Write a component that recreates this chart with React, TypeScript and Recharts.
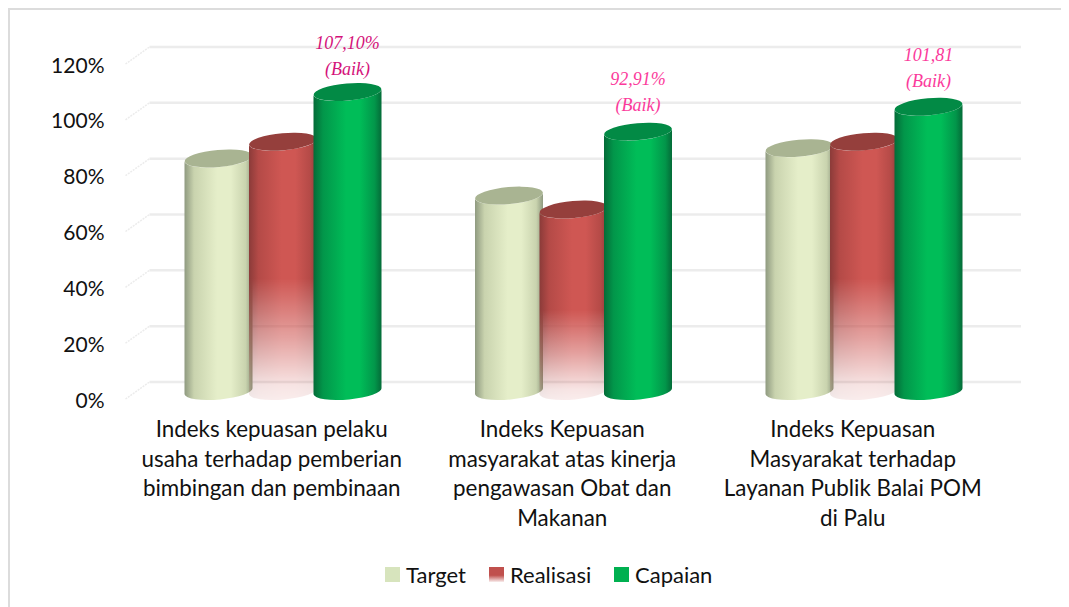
import React from 'react';
import { Bar, CartesianGrid, ComposedChart, LabelList, Legend, XAxis, YAxis } from 'recharts';

const categories = [
  'Indeks kepuasan pelaku\nusaha terhadap pemberian\nbimbingan dan pembinaan',
  'Indeks Kepuasan\nmasyarakat atas kinerja\npengawasan Obat dan\nMakanan',
  'Indeks Kepuasan\nMasyarakat terhadap\nLayanan Publik Balai POM\ndi Palu',
];
const target = [83.3, 70, 87];
const realisasi = [89.3, 65, 89.3];
const capaian = [107.1, 92.91, 101.81];
const capaianLabels = ['107,10%', '92,91%', '101,81'];
const capaianRatings = ['(Baik)', '(Baik)', '(Baik)'];
const yTicks = [0, 20, 40, 60, 80, 100, 120];

const chartData = categories.map((name, i) => ({
  name,
  target: target[i],
  realisasi: realisasi[i],
  capaian: capaian[i],
}));

const FONT = 'Lato, sans-serif';
const labelColors = ['#d4127a', '#fb3a9b', '#fb3a9b'];
const labelLift = [43, 47, 46];

const Cylinder = ({ x, y, width, height, bodyFill, capFill, mask }: any) => {
  const rx = width / 2;
  const ry = 8.5;
  const tilt = 3.2;
  const left = x;
  const right = x + width;
  const bottom = y + height;
  const body =
    `M${left},${y + tilt} L${left},${bottom + tilt} ` +
    `A${rx} ${ry} -5 0 0 ${right},${bottom - tilt} ` +
    `L${right},${y - tilt} A${rx} ${ry} -5 0 1 ${left},${y + tilt} Z`;
  return (
    <g>
      <path d={body} fill={bodyFill} mask={mask} />
      <ellipse cx={x + rx} cy={y} rx={rx} ry={ry} fill={capFill} transform={`rotate(-5 ${x + rx} ${y})`} />
    </g>
  );
};

const YTick = ({ x, y, payload }: any) => (
  <text x={x - 25} y={y + 8} textAnchor="end" dominantBaseline="central" fontFamily={FONT} fontSize={21} fill="#111">
    {payload.value}%
  </text>
);

const XTick = ({ x, y, payload }: any) => {
  const lines = String(payload.value).split('\n');
  return (
    <text x={x - 11} y={y} textAnchor="middle" fontFamily={FONT} fontSize={22.4} fill="#111">
      {lines.map((line, i) => (
        <tspan key={i} x={x - 11} dy={i === 0 ? 38 : 29.6}>
          {line}
        </tspan>
      ))}
    </text>
  );
};

const CapaianLabel = ({ x, y, width, index }: any) => {
  const cx = x + width / 2;
  const top = y - labelLift[index];
  return (
    <text textAnchor="middle" fontFamily="'Liberation Serif', serif" fontStyle="italic" fontSize={18} fill={labelColors[index]}>
      <tspan x={cx} y={top}>{capaianLabels[index]}</tspan>
      <tspan x={cx} y={top + 26}>{capaianRatings[index]}</tspan>
    </text>
  );
};

// gridline with the short diagonal running to the front of the chart floor
const GridLine = ({ x1, x2, y1 }: any) => (
  <g fill="none" stroke="#ececec">
    <line x1={x1 - 12} y1={y1 + 8} x2={x1 + 12} y2={y1 - 9} strokeWidth={1.5} strokeDasharray="2 1" />
    <line x1={x1 + 12} y1={y1 - 9} x2={x2 + 12} y2={y1 - 9} strokeWidth={2.5} />
  </g>
);

const swatches: Record<string, string> = {
  target: '#d7e4bd',
  realisasi: 'url(#legendFade)',
  capaian: '#00b050',
};
const legendLeft: Record<string, number> = { target: 375, realisasi: 479, capaian: 604 };

const LegendRow = ({ payload }: any) => (
  <div style={{ position: 'relative', height: 30, fontFamily: FONT, fontSize: 22, color: '#111' }}>
    <svg width={0} height={0} style={{ position: 'absolute' }}>
      <defs>
        <linearGradient id="legendFade" x1="0" y1="0" x2="0" y2="1">
          <stop offset="55%" stopColor="#c0504d" />
          <stop offset="100%" stopColor="#c0504d" stopOpacity={0.1} />
        </linearGradient>
      </defs>
    </svg>
    {(payload || []).map((entry: any) => (
      <div key={entry.dataKey} style={{ position: 'absolute', left: legendLeft[entry.dataKey], top: 0, display: 'flex', alignItems: 'center', height: 30 }}>
        <svg width={15} height={15} style={{ marginRight: 6 }}>
          <rect width={15} height={15} fill={swatches[entry.dataKey]} />
        </svg>
        <span>{entry.value}</span>
      </div>
    ))}
  </div>
);

const bodyGradient = (id: string, edge: string, mid: string, bright: string) => (
  <linearGradient id={id} x1="0" y1="0" x2="1" y2="0">
    <stop offset="0%" stopColor={edge} />
    <stop offset="14%" stopColor={mid} />
    <stop offset="48%" stopColor={bright} />
    <stop offset="68%" stopColor={bright} />
    <stop offset="90%" stopColor={mid} />
    <stop offset="100%" stopColor={edge} />
  </linearGradient>
);

export default function App() {
  return (
    <div
      style={{
        position: 'relative',
        width: 1061,
        height: 599,
        boxSizing: 'border-box',
        borderTop: '2px solid #dcdcdc',
        borderLeft: '2px solid #dcdcdc',
        overflow: 'hidden',
        background: '#fff',
      }}
    >
      <ComposedChart
        width={1059}
        height={597}
        data={chartData}
        barSize={68}
        barGap={-3.5}
        margin={{ top: 46, right: 60, bottom: 86, left: 0 }}
      >
        <defs>
          {bodyGradient('targetBody', '#8f9a80', '#c9d3ae', '#e5eec9')}
          {bodyGradient('realisasiBody', '#8b3b39', '#b44a47', '#cf5753')}
          {bodyGradient('capaianBody', '#046b38', '#02964a', '#00bd58')}
          <linearGradient id="fadeDown" x1="0" y1="0" x2="0" y2="1">
            <stop offset="53%" stopColor="#fff" />
            <stop offset="72%" stopColor="#fff" stopOpacity={0.55} />
            <stop offset="87%" stopColor="#fff" stopOpacity={0.16} />
            <stop offset="100%" stopColor="#fff" stopOpacity={0.02} />
          </linearGradient>
          <mask id="realisasiFade" maskContentUnits="objectBoundingBox" x="-0.1" y="-0.1" width="1.2" height="1.2">
            <rect x="-0.1" y="-0.1" width="1.2" height="1.2" fill="url(#fadeDown)" />
          </mask>
        </defs>
        <CartesianGrid vertical={false} horizontal={(props: any) => <GridLine key={props.key} {...props} />} />
        <XAxis dataKey="name" axisLine={false} tickLine={false} interval={0} height={100} tick={<XTick />} />
        <YAxis
          width={127.5}
          domain={[0, 120]}
          ticks={yTicks}
          axisLine={false}
          tickLine={false}
          tick={<YTick />}
        />
        <Legend
          height={30}
          content={<LegendRow />}
          itemSorter={null}
          wrapperStyle={{ left: 0, right: 0, width: 1059, top: 549 }}
        />
        <Bar
          dataKey="target"
          name="Target"
          isAnimationActive={false}
          shape={(p: any) => <Cylinder {...p} bodyFill="url(#targetBody)" capFill="#a9b492" />}
        />
        <Bar
          dataKey="realisasi"
          name="Realisasi"
          isAnimationActive={false}
          shape={(p: any) => <Cylinder {...p} bodyFill="url(#realisasiBody)" capFill="#953f3c" mask="url(#realisasiFade)" />}
        />
        <Bar
          dataKey="capaian"
          name="Capaian"
          isAnimationActive={false}
          shape={(p: any) => <Cylinder {...p} bodyFill="url(#capaianBody)" capFill="#028a45" />}
        >
          <LabelList dataKey="capaian" content={<CapaianLabel />} isAnimationActive={false} />
        </Bar>
      </ComposedChart>
    </div>
  );
}
